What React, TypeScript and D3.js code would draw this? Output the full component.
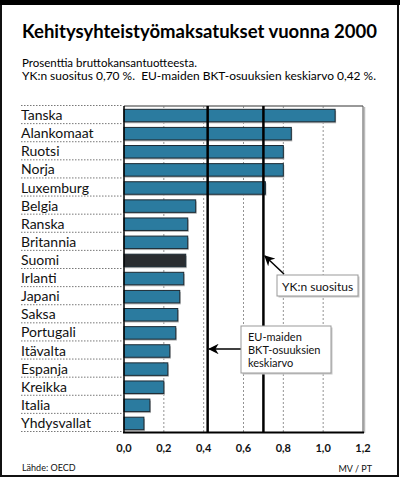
import React from "react";
import * as d3 from "d3";

// Kehitysyhteistyömaksatukset vuonna 2000, % BKT:sta
const countries = [
  "Tanska", "Alankomaat", "Ruotsi", "Norja", "Luxemburg", "Belgia", "Ranska",
  "Britannia", "Suomi", "Irlanti", "Japani", "Saksa", "Portugali", "Itävalta",
  "Espanja", "Kreikka", "Italia", "Yhdysvallat",
];
const shares = [
  1.06, 0.84, 0.8, 0.8, 0.71, 0.36, 0.32, 0.32, 0.31, 0.3, 0.28, 0.27, 0.26,
  0.23, 0.22, 0.2, 0.13, 0.1,
];
const highlighted = "Suomi";
const ticks = [0, 0.2, 0.4, 0.6, 0.8, 1.0, 1.2];
const ykRecommendation = 0.7;
const euAverage = 0.42;
const ykLabel = "YK:n suositus";
const euLabel = ["EU-maiden", "BKT-osuuksien", "keskiarvo"];

const W = 400;
const H = 478;
const FONT = "Lato, 'Open Sans', sans-serif";
const BAR = "#2b7b9f";
const BAR_DARK = "#2a2d30";

const App: React.FC = () => {
  const x = d3.scaleLinear().domain([0, 1.2]).range([124, 363]);
  const y = d3.scaleBand().domain(countries).range([106, 432]);
  const rows = countries.map((c, i) => ({ c, v: shares[i] }));
  const fmt = (t: number) => d3.format(".1f")(t).replace(".", ",");

  const ykX = x(ykRecommendation);
  const euX = x(euAverage);

  return (
    <svg
      width={W}
      height={H}
      style={{ position: "absolute", left: 0, top: 0, background: "#fff" }}
      fontFamily={FONT}
    >
      <defs>
        <marker id="arr" viewBox="0 0 10 10" refX="9" refY="5" markerWidth="7" markerHeight="7" orient="auto">
          <path d="M0,0 L10,5 L0,10 L3,5 Z" fill="#000" />
        </marker>
      </defs>

      {/* kehys */}
      <rect x={1} y={1} width={W - 3} height={H - 3} fill="#fff" stroke="#111" strokeWidth={2} />
      <rect x={0} y={0} width={W} height={5} fill="#000" />

      {/* otsikot */}
      <text x={22} y={37.5} fontSize={18} fontWeight={700} textLength={355} lengthAdjust="spacingAndGlyphs">
        Kehitysyhteistyömaksatukset vuonna 2000
      </text>
      <text x={22} y={66.5} fontSize={11.5}>Prosenttia bruttokansantuotteesta.</text>
      <text x={22} y={80} fontSize={11.5} textLength={354} lengthAdjust="spacingAndGlyphs" xmlSpace="preserve">
        YK:n suositus 0,70 %.  EU-maiden BKT-osuuksien keskiarvo 0,42 %.
      </text>

      {/* rivien katkoviivat */}
      {[...countries.map((c) => y(c) as number), 432].map((yy, i) => (
        <line key={i} x1={21} x2={123} y1={yy - 0.5} y2={yy - 0.5} stroke="#555" strokeWidth={0.8} strokeDasharray="1.5,1.5" />
      ))}

      {/* maiden nimet */}
      {rows.map((d) => (
        <text key={d.c} x={21} y={(y(d.c) as number) + y.bandwidth() / 2 + 5} fontSize={14} fill="#111">
          {d.c}
        </text>
      ))}

      {/* kuvaajan kehys */}
      <line x1={364.5} x2={364.5} y1={107} y2={433} stroke="#bbb" strokeWidth={1.5} />
      <line x1={124} x2={363} y1={106} y2={106} stroke="#333" strokeWidth={1} />
      <line x1={363} x2={363} y1={106} y2={432} stroke="#555" strokeWidth={1} />

      {/* apuviivat */}
      {ticks.slice(1, -1).map((t) => (
        <line key={t} x1={x(t)} x2={x(t)} y1={106} y2={432} stroke="#777" strokeWidth={0.8} strokeDasharray="2,2" />
      ))}

      {/* pylväät */}
      {rows.map((d) => {
        const y0 = (y(d.c) as number) + 3.3;
        const h = 12.5;
        return (
          <g key={d.c}>
            <rect x={x(0) + 1} y={y0 + 1.5} width={x(d.v) - x(0)} height={h} fill="#b5b5b5" />
            <rect
              x={x(0)}
              y={y0}
              width={x(d.v) - x(0)}
              height={h}
              fill={d.c === highlighted ? BAR_DARK : BAR}
              stroke="#1c2a33"
              strokeWidth={1}
            />
          </g>
        );
      })}

      {/* viitearvot */}
      <line x1={euX} x2={euX} y1={106} y2={432} stroke="#000" strokeWidth={2.5} />
      <line x1={ykX} x2={ykX} y1={106} y2={432} stroke="#000" strokeWidth={2.5} />

      {/* akselit */}
      <line x1={124} x2={124} y1={106} y2={433} stroke="#000" strokeWidth={1.5} />
      <line x1={123} x2={364} y1={432.5} y2={432.5} stroke="#000" strokeWidth={2} />

      {ticks.map((t) => (
        <text key={t} x={x(t)} y={452} fontSize={11} fontWeight={700} textAnchor="middle" fill="#111">
          {fmt(t)}
        </text>
      ))}

      {/* YK-selite */}
      <line x1={284} y1={274} x2={ykX + 1.5} y2={256} stroke="#000" strokeWidth={1.5} markerEnd="url(#arr)" />
      <rect x={278.5} y={276.5} width={81} height={21} fill="#c8c8c8" />
      <rect x={277} y={275} width={81} height={21} fill="#fff" stroke="#999" strokeWidth={1} />
      <text x={282} y={291} fontSize={12} fill="#111">{ykLabel}</text>

      {/* EU-selite */}
      <line x1={241} y1={349} x2={euX + 1.5} y2={349} stroke="#000" strokeWidth={1.5} markerEnd="url(#arr)" />
      <rect x={242.5} y={327.5} width={90} height={47} fill="#c8c8c8" />
      <rect x={241} y={326} width={90} height={47} fill="#fff" stroke="#999" strokeWidth={1} />
      {euLabel.map((s, i) => (
        <text key={s} x={248} y={341 + i * 13} fontSize={11} fill="#111">{s}</text>
      ))}

      {/* alaviitteet */}
      <text x={22} y={471} fontSize={9} fill="#111">Lähde: OECD</text>
      <text x={372} y={472} fontSize={9} textAnchor="end" fill="#111">MV / PT</text>
    </svg>
  );
};

export default App;
